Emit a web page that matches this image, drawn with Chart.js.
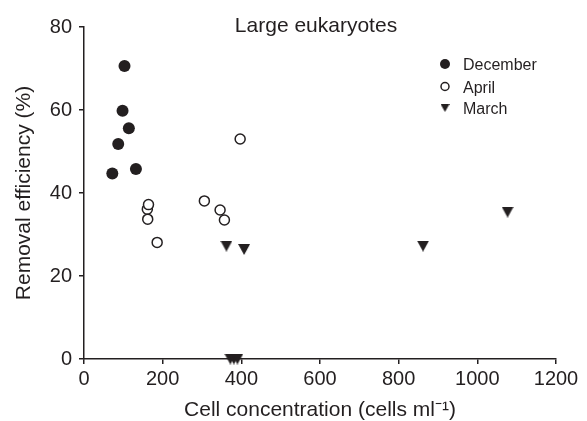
<!DOCTYPE html>
<html>
<head>
<meta charset="utf-8">
<script src="https://cdn.jsdelivr.net/npm/chart.js@4/dist/chart.umd.min.js"></script>
<style>
  html, body { margin: 0; padding: 0; background: #fff; }
  #wrap { width: 587px; height: 421px; }
</style>
</head>
<body>
<div id="wrap"><canvas id="chart" width="587" height="421"></canvas></div>
<script>
// values
const decemberX = [72, 87, 98, 103, 114, 132];
const decemberY = [44.7, 51.8, 59.8, 70.6, 55.6, 45.8];
const aprilX = [161, 162, 164, 186, 306, 346, 357, 397];
const aprilY = [36.1, 33.7, 37.2, 28.1, 38.1, 35.9, 33.5, 53.0];
const marchX = [362, 407, 862, 1077, 372, 381, 390];
const marchY = [27.2, 26.4, 27.2, 35.4, 0, 0, 0];
const xTicks = [0, 200, 400, 600, 800, 1000, 1200];
const yTicks = [0, 20, 40, 60, 80];
const seriesNames = ["December", "April", "March"];

const ink = "#231f20";
const fontFam = "'Liberation Sans', Arial, Helvetica, sans-serif";

function toPoints(xs, ys) {
  return xs.map((x, i) => ({ x: x, y: ys[i] }));
}

// downward triangle, centred on its own box
function makeTriangle(w, h) {
  const c = document.createElement("canvas");
  c.width = w;
  c.height = h;
  const g = c.getContext("2d");
  g.fillStyle = ink;
  g.beginPath();
  g.moveTo(0, 0);
  g.lineTo(w, 0);
  g.lineTo(w / 2, h);
  g.closePath();
  g.fill();
  return c;
}
const triMark = makeTriangle(12, 11);
const triLegend = makeTriangle(9, 8);

const overlay = {
  id: "overlay",
  afterDraw(chart) {
    const ctx = chart.ctx;
    ctx.save();
    ctx.fillStyle = ink;
    ctx.textBaseline = "alphabetic";

    // title inside the top of the plot
    ctx.font = "21px " + fontFam;
    ctx.textAlign = "center";
    ctx.fillText("Large eukaryotes", 316, 32);

    // legend
    ctx.font = "16px " + fontFam;
    ctx.textAlign = "left";
    const rows = [70, 92.5, 114];
    const mx = 445;
    rows.forEach((base, i) => {
      const cy = base - 6;
      ctx.fillText(seriesNames[i], 463, base);
      if (i === 0) {
        ctx.beginPath();
        ctx.arc(mx, cy, 5, 0, Math.PI * 2);
        ctx.fillStyle = ink;
        ctx.fill();
      } else if (i === 1) {
        ctx.beginPath();
        ctx.arc(mx, cy, 4, 0, Math.PI * 2);
        ctx.lineWidth = 1.5;
        ctx.strokeStyle = ink;
        ctx.stroke();
      } else {
        ctx.drawImage(triLegend, mx - 4.5, cy - 4);
      }
    });
    ctx.restore();
  }
};

new Chart(document.getElementById("chart"), {
  type: "scatter",
  data: {
    datasets: [
      {
        label: seriesNames[0],
        data: toPoints(decemberX, decemberY),
        pointStyle: "circle",
        pointRadius: 6,
        backgroundColor: ink,
        borderColor: ink,
        borderWidth: 0
      },
      {
        label: seriesNames[1],
        data: toPoints(aprilX, aprilY),
        pointStyle: "circle",
        pointRadius: 5,
        backgroundColor: "#fff",
        borderColor: ink,
        borderWidth: 1.5
      },
      {
        label: seriesNames[2],
        data: toPoints(marchX, marchY),
        pointStyle: triMark,
        pointRadius: 6,
        backgroundColor: ink,
        borderColor: ink,
        borderWidth: 0,
        clip: false
      }
    ]
  },
  options: {
    responsive: false,
    animation: false,
    events: [],
    layout: { padding: { top: 27, right: 31, left: 0, bottom: 0 } },
    plugins: {
      legend: { display: false },
      tooltip: { enabled: false },
      title: { display: false }
    },
    scales: {
      x: {
        type: "linear",
        min: 0,
        max: 1200,
        afterFit: s => { s.height = 62; },
        afterBuildTicks: s => { s.ticks = xTicks.map(v => ({ value: v })); },
        grid: { drawOnChartArea: false, drawTicks: true, tickLength: 5, color: ink, lineWidth: 1.5 },
        border: { display: true, color: ink, width: 1.5 },
        ticks: {
          color: ink,
          font: { family: fontFam, size: 20 },
          padding: 3,
          maxRotation: 0,
          autoSkip: false,
          callback: v => String(v)
        },
        title: {
          display: true,
          text: "Cell concentration (cells ml\u207B\u00B9)",
          color: ink,
          font: { family: fontFam, size: 21, lineHeight: 1 },
          padding: { top: 0, bottom: 0 }
        }
      },
      y: {
        type: "linear",
        min: 0,
        max: 80,
        afterFit: s => { s.width = 84; },
        afterBuildTicks: s => { s.ticks = yTicks.map(v => ({ value: v })); },
        grid: { drawOnChartArea: false, drawTicks: true, tickLength: 5, color: ink, lineWidth: 1.5 },
        border: { display: true, color: ink, width: 1.5 },
        ticks: {
          color: ink,
          font: { family: fontFam, size: 20 },
          padding: 7,
          autoSkip: false,
          callback: v => String(v)
        },
        title: {
          display: true,
          text: "Removal efficiency (%)",
          color: ink,
          font: { family: fontFam, size: 21, lineHeight: 1 },
          padding: { top: 14, bottom: 0 }
        }
      }
    }
  },
  plugins: [overlay]
});
</script>
</body>
</html>
